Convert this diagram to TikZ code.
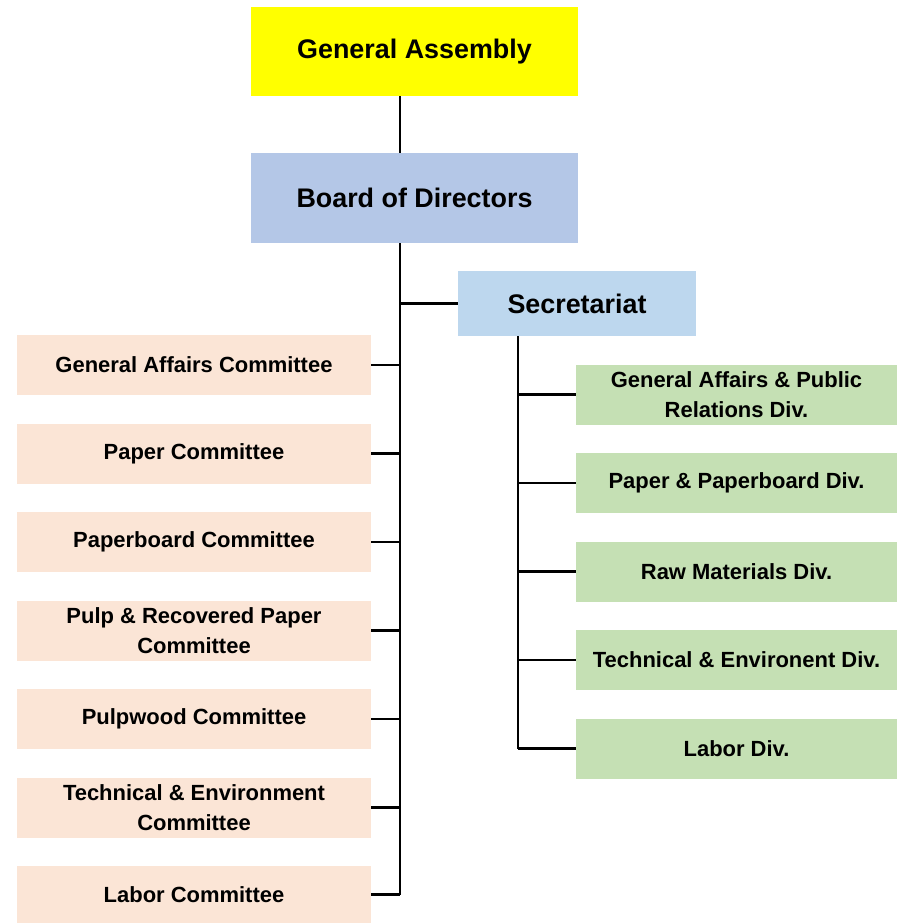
\documentclass[tikz,border=0pt]{standalone}
\usepackage{fontspec}
\setmainfont{Liberation Sans}
\usepackage{xcolor}
\usepackage{tikz}
\usetikzlibrary{positioning,calc}

\definecolor{gayellow}{HTML}{FFFF00}
\definecolor{bodblue}{HTML}{B4C7E7}
\definecolor{secblue}{HTML}{BDD7EE}
\definecolor{compeach}{HTML}{FBE5D6}
\definecolor{divgreen}{HTML}{C5E0B4}

\tikzset{
    topbox/.style={fill=#1, inner sep=0pt, align=center,
        font=\fontsize{15.3}{18}\selectfont\bfseries},
    combox/.style={fill=compeach, minimum width=7.08cm, minimum height=1.2cm,
        inner sep=0pt, align=center, font=\fontsize{12.5}{17}\selectfont\bfseries},
    divbox/.style={fill=divgreen, minimum width=6.42cm, minimum height=1.2cm,
        inner sep=0pt, align=center, font=\fontsize{12.5}{17}\selectfont\bfseries},
    link/.style={draw=black, line width=1.25pt}
}

\begin{document}
\begin{tikzpicture}[x=0.02cm, y=-0.02cm]
    \useasboundingbox (0,0) rectangle (897,923);

    % Top levels
    \node[topbox=gayellow, minimum width=6.54cm, minimum height=1.78cm] (ga) at (414.5,51.5) {General Assembly};
    \node[topbox=bodblue, minimum width=6.54cm, minimum height=1.8cm] (bod) at (414.5,198) {Board of Directors};
    \node[topbox=secblue, minimum width=4.76cm, minimum height=1.3cm] (sec) at (577,303.5) {Secretariat};

    % Committees
    \node[combox] (gac) at (194,365) {General Affairs Committee};
    \node[combox] (pac) at (194,453.5) {Paper Committee};
    \node[combox] (pbc) at (194,542) {Paperboard Committee};
    \node[combox] (rpc) at (194,630.5) {Pulp \& Recovered Paper\\Committee};
    \node[combox] (pwc) at (194,719) {Pulpwood Committee};
    \node[combox] (tec) at (194,807.5) {Technical \& Environment\\Committee};
    \node[combox, minimum height=1.14cm] (lac) at (194,894.5) {Labor Committee};

    % Divisions
    \node[divbox] (gad) at (736.5,394.5) {General Affairs \& Public\\Relations Div.};
    \node[divbox] (ppd) at (736.5,483) {Paper \& Paperboard Div.};
    \node[divbox] (rmd) at (736.5,571.5) {Raw Materials Div.};
    \node[divbox] (ted) at (736.5,660) {Technical \& Environent Div.};
    \node[divbox] (lad) at (736.5,748.5) {Labor Div.};

    % Trunks
    \coordinate (trunk) at (400,0);
    \coordinate (sectrunk) at (518,0);
    \draw[link] (ga.south -| trunk) -- (bod.north -| trunk);
    \draw[link] (bod.south -| trunk) -- (lac.east -| trunk);
    \draw[link] (sec.west -| trunk) -- (sec.west);
    \draw[link] (sec.south -| sectrunk) -- (lad.west -| sectrunk);

    % Branches
    \draw[link] (gac.east) -- (gac.east -| trunk);
    \draw[link] (pac.east) -- (pac.east -| trunk);
    \draw[link] (pbc.east) -- (pbc.east -| trunk);
    \draw[link] (rpc.east) -- (rpc.east -| trunk);
    \draw[link] (pwc.east) -- (pwc.east -| trunk);
    \draw[link] (tec.east) -- (tec.east -| trunk);
    \draw[link] (lac.east) -- (lac.east -| trunk);
    \draw[link] (gad.west) -- (gad.west -| sectrunk);
    \draw[link] (ppd.west) -- (ppd.west -| sectrunk);
    \draw[link] (rmd.west) -- (rmd.west -| sectrunk);
    \draw[link] (ted.west) -- (ted.west -| sectrunk);
    \draw[link] (lad.west) -- (lad.west -| sectrunk);
\end{tikzpicture}
\end{document}
